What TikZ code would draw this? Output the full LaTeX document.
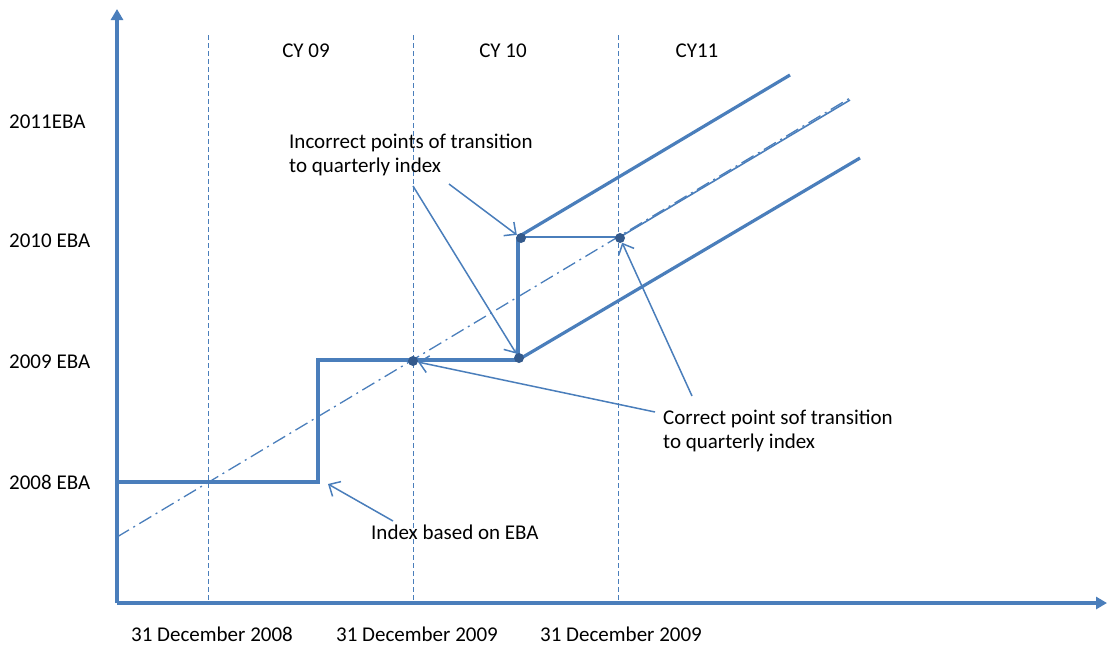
\documentclass[tikz,border=0pt]{standalone}
\usepackage{fontspec}
\setmainfont{Carlito}
\usetikzlibrary{arrows.meta}
\definecolor{lineblue}{RGB}{74,126,187}
\definecolor{dotblue}{RGB}{52,90,140}
\tikzset{
  axisline/.style={lineblue, line width=3.2pt, -{Triangle[length=11pt,width=12pt]}},
  thickline/.style={lineblue, line width=3.2pt},
  thinline/.style={lineblue, line width=1.6pt},
  gridline/.style={lineblue, line width=1pt, dash pattern=on 5pt off 3pt},
  dashdotline/.style={lineblue, line width=1.3pt, dash pattern=on 14pt off 5pt on 2pt off 5pt},
  pointer/.style={lineblue, line width=1.5pt, -{Straight Barb[length=9pt,width=17pt,line width=1.5pt]}},
  dotmark/.style={circle, fill=dotblue, inner sep=0pt, minimum size=10pt},
  lbl/.style={inner sep=0pt, font=\fontsize{21}{24}\selectfont, text=black},
}
\begin{document}
\begin{tikzpicture}[x=1pt,y=-1pt]
\useasboundingbox (0,0) rectangle (1107,646);
% grid
\coordinate (g1t) at (208,35); \coordinate (g1b) at (208,603);
\coordinate (g2t) at (413,35); \coordinate (g2b) at (413,603);
\coordinate (g3t) at (618,35); \coordinate (g3b) at (618,603);
\draw[gridline] (g1t) -- (g1b);
\draw[gridline] (g2t) -- (g2b);
\draw[gridline] (g3t) -- (g3b);
% dash-dot trend
\coordinate (t0) at (117,537); \coordinate (t1) at (850,98);
\draw[dashdotline] (t0) -- (t1);
% step index
\coordinate (s0) at (117,482); \coordinate (s1) at (318,482);
\coordinate (s2) at (318,360); \coordinate (s3) at (518,360);
\coordinate (s4) at (518,237);
\draw[thickline] (s0) -- (s1) -- (s2) -- (s3) -- (s4);
\coordinate (u1) at (790,75);
\draw[thickline] (s4) -- (u1);
\coordinate (l1) at (860,158);
\draw[thickline] (s3) -- (l1);
\coordinate (c1) at (620,237); \coordinate (c2) at (850,100);
\draw[thinline] (s4) -- (c1) -- (c2);
% axes
\coordinate (o) at (117,603);
\coordinate (ytop) at (117,9);
\coordinate (xend) at (1107,603);
\draw[axisline] (o) -- (ytop);
\draw[axisline] (o) -- (xend);
% dots
\node[dotmark] (d1) at (521,238) {};
\node[dotmark] (d2) at (620,238) {};
\node[dotmark] (d3) at (413,361) {};
\node[dotmark] (d4) at (519,358) {};
% labels
\node[lbl, anchor=base] (cy9) at (306,57) {CY 09};
\node[lbl, anchor=base] (cy10) at (503,57) {CY 10};
\node[lbl, anchor=base] (cy11) at (697,57) {CY11};
\node[lbl, anchor=base west] (y11) at (9,128) {2011EBA};
\node[lbl, anchor=base west] (y10) at (9,247) {2010 EBA};
\node[lbl, anchor=base west] (y09) at (9,368) {2009 EBA};
\node[lbl, anchor=base west] (y08) at (9,489) {2008 EBA};
\node[lbl, anchor=base] (x1) at (212,641) {31 December 2008};
\node[lbl, anchor=base] (x2) at (417,641) {31 December 2009};
\node[lbl, anchor=base] (x3) at (621,641) {31 December 2009};
\node[lbl, anchor=base west, align=left] (inc) at (289,172) {Incorrect points of transition\\to quarterly index};
\node[lbl, anchor=base west, align=left] (cor) at (663,448) {Correct point sof transition\\to quarterly index};
\node[lbl, anchor=base west] (idx) at (371,539) {Index based on EBA};
% pointers
\coordinate (p1s) at (449,184);
\coordinate (p2s) at (413,186);
\coordinate (p3s) at (692,396);
\coordinate (p4s) at (655,412);
\coordinate (p5s) at (393,521);
\coordinate (p5e) at (328,484);
\draw[pointer] (p1s) -- (d1);
\draw[pointer] (p2s) -- (d4);
\draw[pointer] (p3s) -- (d2);
\draw[pointer] (p4s) -- (d3);
\draw[pointer] (p5s) -- (p5e);
\end{tikzpicture}
\end{document}
